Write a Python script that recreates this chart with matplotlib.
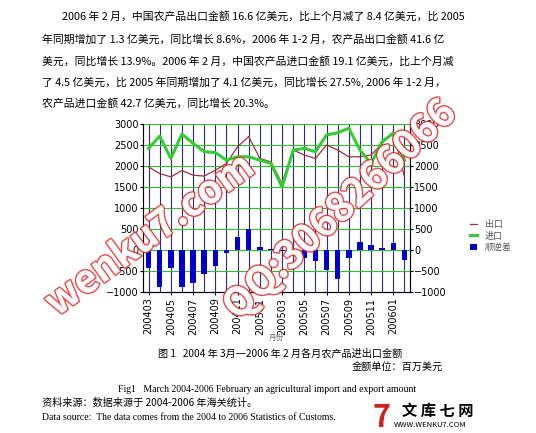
import matplotlib
matplotlib.use("Agg")
import matplotlib.pyplot as plt
import matplotlib.patheffects as pe
import numpy as np

plt.rcParams['font.family'] = ['Noto Sans CJK SC', 'DejaVu Sans']

months = ["200403","200404","200405","200406","200407","200408","200409","200410",
          "200411","200412","200501","200502","200503","200504","200505","200506",
          "200507","200508","200509","200510","200511","200512","200601","200602"]
imports = [2420,2710,2180,2760,2540,2340,2320,2140,2220,2220,2140,2060,1500,2380,
           2420,2340,2740,2790,2900,2380,2060,2580,2780,2140]
exports = [1980,1820,1740,1890,1780,1760,1900,2060,2460,2700,2180,2100,1580,2380,
           2260,2180,2500,2380,2220,2220,2260,2540,2820,1740]
balance = [-430,-880,-440,-880,-790,-560,-380,-80,300,500,80,30,-20,-130,-180,-250,
           -480,-690,-180,180,120,50,160,-240]

fig = plt.figure(figsize=(5.36, 4.33), dpi=100)
W, H = 536, 433
def fx(x): return x / W
def fy(y): return 1 - y / H

paragraph = [
    (62, 16, "2006 年 2 月，中国农产品出口金额 16.6 亿美元，比上个月减了 8.4 亿美元，比 2005"),
    (42, 39, "年同期增加了 1.3 亿美元，同比增长 8.6%，2006 年 1-2 月，农产品出口金额 41.6 亿"),
    (42, 61, "美元，同比增长 13.9%。2006 年 2 月，中国农产品进口金额 19.1 亿美元，比上个月减"),
    (42, 82, "了 4.5 亿美元，比 2005 年同期增加了 4.1 亿美元，同比增长 27.5%, 2006 年 1-2 月，"),
    (42, 103, "农产品进口金额 42.7 亿美元，同比增长 20.3%。"),
]
for x, y, t in paragraph:
    fig.text(fx(x), fy(y), t, fontsize=7.8, va='center', ha='left', color='black')

ax = fig.add_axes([fx(143), fy(292), fx(410) - fx(143), fy(124) - fy(292)])
x = np.arange(len(months))
ax.set_xlim(-0.5, len(months) - 0.5)
ax.set_ylim(-1000, 3000)
ax.set_yticks(range(-1000, 3001, 500))
ax.yaxis.grid(True, color='#33bb33', lw=0.8)
for xi in x:
    ax.axvline(xi, color='#2a2a7a', lw=0.8, zorder=0)
ax.set_axisbelow(True)
hb = ax.bar(x, balance, width=0.5, color='#0000cc', zorder=3)
he, = ax.plot(x, exports, color='#a0303a', lw=0.9, zorder=4)
hi, = ax.plot(x, imports, color='#33cc33', lw=2.2, zorder=4)
ax.set_xticks(x[::2])
ax.set_xticklabels(months[::2], rotation=90, fontsize=7, family='DejaVu Sans')
ax.tick_params(axis='y', labelsize=7, length=2, pad=1)
ax.tick_params(axis='x', length=2, pad=2)
for lab in ax.get_yticklabels():
    lab.set_family('DejaVu Sans')
for s in ax.spines.values():
    s.set_color('#888888')
ax.spines['top'].set_visible(False)
ax2 = ax.twinx()
ax2.set_ylim(-1000, 3000)
ax2.set_yticks(range(-1000, 3001, 500))
ax2.tick_params(axis='y', labelsize=7, length=2, pad=1)
for lab in ax2.get_yticklabels():
    lab.set_family('DejaVu Sans')
ax2.spines['top'].set_visible(False)
fig.text(fx(276), fy(338), '月份', fontsize=5.5, color='#666666', ha='center', va='center')

fig.legend([he, hi, hb], ['出口', '进口', '顺逆差'], loc='center left',
           bbox_to_anchor=(fx(462), fy(236)), frameon=False, fontsize=6.5,
           handlelength=0.8, labelspacing=0.3, labelcolor='#555555')

fig.text(fx(158), fy(354), "图 1   2004 年 3月一2006 年 2 月各月农产品进出口金额", fontsize=7.3, va='center')
fig.text(fx(352), fy(368), "金额单位：百万美元", fontsize=7.3, va='center')
fig.text(fx(118), fy(389), "Fig1   March 2004-2006 February an agricultural import and export amount",
         fontsize=7, family='Liberation Serif', va='center')
fig.text(fx(42), fy(403), "资料来源：数据来源于 2004-2006 年海关统计。", fontsize=7.3, va='center')
fig.text(fx(42), fy(418), "Data source:  The data comes from the 2004 to 2006 Statistics of Customs.",
         fontsize=7, family='Liberation Serif', va='center')

fig.text(fx(372), fy(418), "7", fontsize=22, color='#cc2222', weight='bold', style='italic', va='center')
fig.text(fx(402), fy(411), "文 库 七 网", fontsize=11, color='black', weight='bold', va='center')
fig.text(fx(394), fy(425), "WWW.WENKU7.COM", fontsize=5.5, color='black', va='center')

wm = dict(fontsize=28, weight='bold', ha='center', va='center', zorder=10, color='white', alpha=0.85)
t1 = fig.text(fx(150), fy(235), "wenku7.com", rotation=36, **wm)
t2 = fig.text(fx(340), fy(210), "QQ:3068266066", rotation=43, **wm)
for t in (t1, t2):
    t.set_path_effects([pe.withStroke(linewidth=2.2, foreground='#e03030'), pe.Normal()])

fig.savefig("out.png", dpi=100)
